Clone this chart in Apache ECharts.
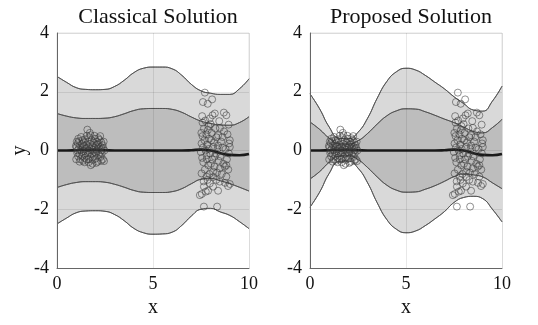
<!DOCTYPE html>
<html><head><meta charset="utf-8">
<script src="https://cdn.jsdelivr.net/npm/echarts@6/dist/echarts.min.js"></script>
<style>html,body{margin:0;padding:0;background:#fff}#c{width:538px;height:325px}</style>
</head><body><div id="c"></div>
<script>
// ---- data ----
const titles = ['Classical Solution', 'Proposed Solution'];
const xTicks = [0, 5, 10];
const yTicks = [-4, -2, 0, 2, 4];
const xGrid = [0,0.5,1,1.5,2,2.5,3,3.5,4,4.5,5,5.5,6,6.5,7,7.5,8,8.5,9,9.5,10];
const meanC = [0,0,0.01,0.02,0.02,0.01,0,0,0,0,0,0,0,0,0.01,0.03,0,-0.09,-0.15,-0.16,-0.12];
const meanP = [0,0,0.01,0.02,0.02,0.01,0,0,0,0,0,0,0,0,0.01,0.03,0,-0.09,-0.15,-0.16,-0.12];
// Classical bands
const cOuterUp = [2.52,2.32,2.14,2.08,2.07,2.08,2.18,2.39,2.65,2.8,2.84,2.84,2.78,2.56,2.25,2.03,1.95,1.91,1.91,2.1,2.44];
const cInnerUp = [1.26,1.17,1.11,1.09,1.09,1.1,1.15,1.25,1.36,1.42,1.43,1.43,1.4,1.3,1.14,1.0,0.92,0.87,0.86,0.95,1.15];
const cInnerLo = [-1.26,-1.16,-1.09,-1.06,-1.06,-1.08,-1.15,-1.25,-1.36,-1.42,-1.43,-1.43,-1.4,-1.3,-1.13,-0.98,-0.95,-1.03,-1.13,-1.25,-1.38];
const cOuterLo = [-2.5,-2.3,-2.12,-2.06,-2.05,-2.07,-2.18,-2.39,-2.65,-2.8,-2.85,-2.84,-2.78,-2.55,-2.23,-2.0,-1.97,-2.09,-2.21,-2.42,-2.66];
// Proposed bands
const pOuterUp = [1.93,1.42,0.8,0.42,0.4,0.62,1.1,1.78,2.35,2.68,2.8,2.74,2.56,2.33,2.1,1.83,1.6,1.38,1.34,1.68,2.19];
const pInnerUp = [0.97,0.72,0.42,0.23,0.22,0.33,0.58,0.9,1.18,1.35,1.42,1.41,1.32,1.2,1.07,0.95,0.8,0.65,0.6,0.78,1.06];
const pInnerLo = [-0.97,-0.72,-0.4,-0.19,-0.18,-0.31,-0.58,-0.9,-1.18,-1.35,-1.42,-1.41,-1.32,-1.2,-1.05,-0.89,-0.8,-0.83,-0.9,-1.1,-1.3];
const pOuterLo = [-1.93,-1.42,-0.78,-0.38,-0.36,-0.6,-1.1,-1.78,-2.35,-2.68,-2.8,-2.74,-2.56,-2.33,-2.08,-1.77,-1.6,-1.56,-1.64,-2.0,-2.43];
// observations (same in both panels)
const obsLeft = [[1.02,0.12],[1.05,-0.08],[1.08,0.25],[1.1,-0.2],[1.12,0.05],[1.15,0.32],[1.17,-0.12],[1.2,0.18],[1.22,-0.3],[1.25,0.02],[1.26,0.46],[1.28,-0.05],[1.3,0.22],[1.32,-0.18],[1.35,0.1],[1.36,-0.35],[1.38,0.28],[1.4,-0.02],[1.42,0.15],[1.44,-0.25],[1.46,0.38],[1.48,0.05],[1.5,-0.1],[1.52,0.2],[1.54,-0.3],[1.56,0.08],[1.58,0.71],[1.6,-0.15],[1.62,0.3],[1.63,0.0],[1.65,-0.4],[1.67,0.12],[1.68,0.45],[1.7,-0.06],[1.72,0.22],[1.74,-0.22],[1.75,0.52],[1.76,-0.5],[1.78,0.06],[1.8,0.35],[1.82,-0.12],[1.84,0.18],[1.86,-0.32],[1.88,0.02],[1.9,0.26],[1.92,-0.18],[1.94,0.1],[1.96,-0.05],[1.98,0.4],[2.0,-0.28],[2.02,0.14],[2.04,-0.1],[2.06,0.3],[2.08,-0.02],[2.1,0.2],[2.12,-0.38],[2.14,0.05],[2.16,0.24],[2.18,-0.15],[2.2,0.08],[2.22,0.36],[2.24,-0.06],[2.25,0.49],[2.27,-0.22],[2.29,0.12],[2.31,0.28],[2.33,-0.1],[2.35,0.02],[2.37,0.18],[2.39,-0.3],[2.41,0.08],[2.43,0.3],[2.45,-0.36],[2.47,0.0],[1.0,-0.3],[1.03,0.3],[1.07,0.0],[0.98,0.15],[1.11,0.4],[1.18,-0.38],[1.33,0.35],[1.43,-0.4],[1.55,0.5],[1.64,-0.3],[1.71,0.6],[1.85,-0.45],[1.95,0.5],[2.05,-0.42],[2.15,0.42],[2.3,-0.35]];
const obsRight = [[7.7,1.97],[7.6,1.65],[7.85,1.59],[8.08,1.74],[7.56,1.17],[8.22,1.26],[8.69,1.29],[8.82,1.2],[8.94,0.88],[8.48,0.77],[7.96,1.09],[7.89,0.83],[7.65,0.75],[7.58,0.49],[8.04,0.35],[8.39,0.52],[8.62,0.46],[8.96,0.24],[9.0,0.12],[8.13,0.12],[8.39,0.17],[7.53,0.24],[7.49,-0.05],[7.79,-0.16],[8.22,-0.21],[8.82,-0.5],[8.74,-0.55],[8.48,-0.61],[8.13,-0.72],[7.79,-0.89],[7.53,-0.78],[8.3,-1.0],[7.96,-1.12],[7.65,-1.23],[8.13,-1.23],[8.48,-1.06],[8.91,-1.21],[9.0,-1.14],[8.82,-0.89],[7.54,-1.48],[7.75,-1.4],[7.87,-1.37],[8.39,-1.37],[7.65,-1.91],[8.34,-1.91],[7.44,-1.52],[7.52,0.6],[7.6,0.1],[7.62,-0.4],[7.68,0.35],[7.7,-0.65],[7.72,1.02],[7.74,0.0],[7.78,0.55],[7.8,-0.3],[7.82,0.2],[7.84,-1.0],[7.86,0.7],[7.88,-0.5],[7.9,0.05],[7.92,0.4],[7.94,-0.8],[7.98,-0.1],[8.0,0.9],[8.02,-0.45],[8.05,0.6],[8.08,-0.3],[8.1,1.2],[8.15,-0.9],[8.18,0.28],[8.2,-0.55],[8.25,0.75],[8.28,-0.1],[8.3,0.45],[8.33,-0.75],[8.36,0.05],[8.42,-0.35],[8.45,1.0],[8.5,-0.2],[8.55,0.3],[8.58,-0.8],[8.62,0.1],[8.66,-0.45],[8.7,0.65],[8.75,-1.1],[8.78,0.05],[8.85,-0.3],[8.88,0.55],[8.92,-0.65],[8.95,-0.1],[9.0,0.35],[7.56,-0.25],[7.64,-1.05],[7.58,0.95]];

// ---- build chart ----
const FONT = '"Liberation Serif", "DejaVu Serif", serif';
const OUTER = '#d9d9d9', INNER = '#bdbdbd', EDGE = '#4d4d4d';
const pairs = (ys) => xGrid.map((x, i) => [x, ys[i]]);

// nested bands: each boundary fills down to the axis minimum, painted in order
function panel(idx, mean, oU, iU, iL, oL) {
  const base = {type: 'line', xAxisIndex: idx, yAxisIndex: idx, showSymbol: false, symbol: 'none', smooth: true, silent: true};
  const layers = [[oU, OUTER], [iU, INNER], [iL, OUTER], [oL, '#ffffff']];
  return [
    ...layers.map(([ys, col], k) => Object.assign({}, base, {
      data: pairs(ys), lineStyle: {color: EDGE, width: 0.8},
      areaStyle: {color: col, opacity: 1, origin: 'start'}, z: 1 + k * 0.01, zlevel: 0
    })),
    // redraw edges above all fills
    ...layers.map(([ys]) => Object.assign({}, base, {data: pairs(ys), lineStyle: {color: EDGE, width: 0.8}, z: 2})),
    Object.assign({}, base, {data: pairs(mean), lineStyle: {color: '#1a1a1a', width: 2.6}, z: 3}),
    {type: 'scatter', xAxisIndex: idx, yAxisIndex: idx, silent: true, data: obsLeft.concat(obsRight), symbol: 'circle', symbolSize: 7,
     itemStyle: {color: 'rgba(0,0,0,0)', borderColor: '#3a3a3a', borderWidth: 0.7}, z: 4}
  ];
}

const grids = [
  {left: 57, width: 192, top: 33, height: 235},
  {left: 310, width: 192, top: 33, height: 235}
];
const chart = echarts.init(document.getElementById('c'), null, {renderer: 'canvas'});
chart.setOption({
  animation: false,
  backgroundColor: '#fff',
  title: titles.map((t, i) => ({
    text: t, left: grids[i].left + grids[i].width / 2, top: 1, textAlign: 'center',
    textStyle: {fontFamily: FONT, fontSize: 22, fontWeight: 'normal', color: '#111'}
  })),
  grid: grids.map(g => Object.assign({show: true, borderColor: '#e3e3e3', borderWidth: 1, backgroundColor: 'transparent'}, g)),
  xAxis: grids.map((g, i) => ({
    type: 'value', gridIndex: i, min: xTicks[0], max: xTicks[xTicks.length - 1], interval: 5, z: 6,
    name: 'x', nameLocation: 'middle', nameGap: 30,
    nameTextStyle: {fontFamily: FONT, fontSize: 20, color: '#111'},
    axisLine: {show: true, onZero: false, lineStyle: {color: '#666', width: 1}},
    axisTick: {show: false},
    axisLabel: {fontFamily: FONT, fontSize: 18, color: '#111', margin: 7},
    splitLine: {show: true, lineStyle: {color: 'rgba(0,0,0,0.09)', width: 1}}
  })),
  yAxis: grids.map((g, i) => ({
    type: 'value', gridIndex: i, min: yTicks[0], max: yTicks[yTicks.length - 1], interval: 2, z: 6,
    name: i === 0 ? 'y' : '', nameLocation: 'middle', nameGap: 27, nameRotate: 90,
    nameTextStyle: {fontFamily: FONT, fontSize: 20, color: '#111'},
    axisLine: {show: true, onZero: false, lineStyle: {color: '#666', width: 1}},
    axisTick: {show: false},
    axisLabel: {fontFamily: FONT, fontSize: 18, color: '#111', margin: 8},
    splitLine: {show: true, lineStyle: {color: 'rgba(0,0,0,0.09)', width: 1}}
  })),
  series: [
    ...panel(0, meanC, cOuterUp, cInnerUp, cInnerLo, cOuterLo),
    ...panel(1, meanP, pOuterUp, pInnerUp, pInnerLo, pOuterLo)
  ]
});
</script></body></html>
